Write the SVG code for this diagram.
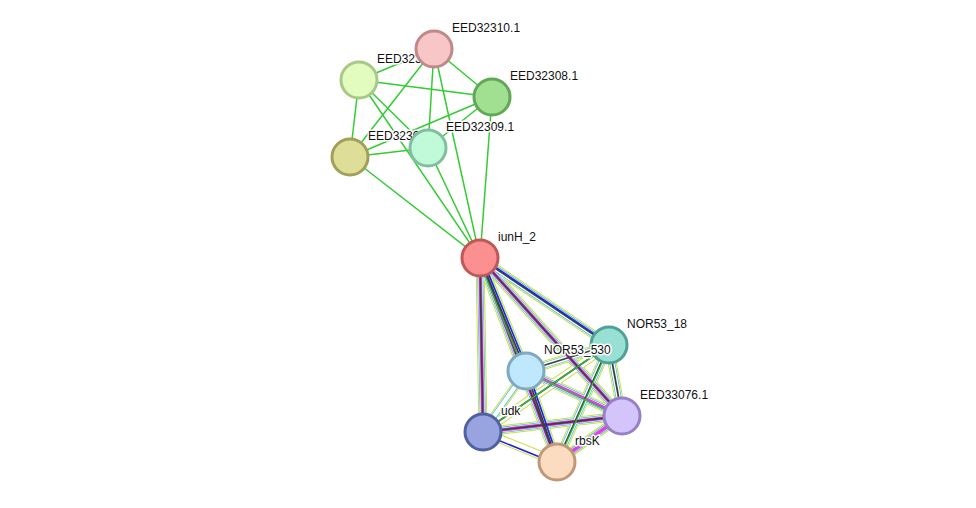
<svg xmlns="http://www.w3.org/2000/svg" width="976" height="508" viewBox="0 0 976 508">
<style>
.g{stroke:#33cc33;stroke-width:1.5}
.a{stroke:#c8e040;stroke-width:9}
.b{stroke:#40b8e0;stroke-width:7}
.m{stroke:#e040e0;stroke-width:5}
.k{stroke:#404040;stroke-width:3}
.n{stroke:#30c030;stroke-width:1.2}
.w{stroke:#fff;stroke-width:1}
text{font-family:"Liberation Sans",Arial,sans-serif;font-size:12px;fill:#111;stroke:#fff;stroke-width:3;paint-order:stroke;stroke-linejoin:round}
circle{stroke-width:3}
</style>
<rect width="976" height="508" fill="#fff"/>
<g id="connectors" fill="none">
<g class="g">
<line x1="434" y1="49" x2="359" y2="80"/><line x1="434" y1="49" x2="492" y2="97"/><line x1="434" y1="49" x2="350" y2="157"/><line x1="434" y1="49" x2="428" y2="148"/><line x1="434" y1="49" x2="480" y2="258"/>
<line x1="359" y1="80" x2="492" y2="97"/><line x1="359" y1="80" x2="350" y2="157"/><line x1="359" y1="80" x2="428" y2="148"/><line x1="359" y1="80" x2="480" y2="258"/>
<line x1="492" y1="97" x2="350" y2="157"/><line x1="492" y1="97" x2="428" y2="148"/><line x1="492" y1="97" x2="480" y2="258"/>
<line x1="350" y1="157" x2="428" y2="148"/><line x1="350" y1="157" x2="480" y2="258"/><line x1="428" y1="148" x2="480" y2="258"/>
</g>
<g id="bundle">
<g class="a"><line x1="480" y1="258" x2="609" y2="345"/><line x1="480" y1="258" x2="526" y2="371"/><line x1="480" y1="258" x2="622" y2="416"/><line x1="480" y1="258" x2="483" y2="432"/><line x1="480" y1="258" x2="557" y2="462"/><line x1="609" y1="345" x2="526" y2="371"/><line x1="609" y1="345" x2="622" y2="416"/><line x1="609" y1="345" x2="483" y2="432"/><line x1="609" y1="345" x2="557" y2="462"/><line x1="526" y1="371" x2="622" y2="416"/><line x1="526" y1="371" x2="483" y2="432"/><line x1="526" y1="371" x2="557" y2="462"/><line x1="622" y1="416" x2="483" y2="432"/><line x1="622" y1="416" x2="557" y2="462"/><line x1="483" y1="432" x2="557" y2="462"/></g>
<g class="w" style="stroke-width:7"><line x1="480" y1="258" x2="609" y2="345"/><line x1="480" y1="258" x2="526" y2="371"/><line x1="480" y1="258" x2="622" y2="416"/><line x1="480" y1="258" x2="483" y2="432"/><line x1="480" y1="258" x2="557" y2="462"/><line x1="609" y1="345" x2="526" y2="371"/><line x1="609" y1="345" x2="622" y2="416"/><line x1="609" y1="345" x2="483" y2="432"/><line x1="609" y1="345" x2="557" y2="462"/><line x1="526" y1="371" x2="622" y2="416"/><line x1="526" y1="371" x2="483" y2="432"/><line x1="526" y1="371" x2="557" y2="462"/><line x1="622" y1="416" x2="483" y2="432"/><line x1="622" y1="416" x2="557" y2="462"/><line x1="483" y1="432" x2="557" y2="462"/></g>
<g class="b" style="stroke-width:6"><line x1="480" y1="258" x2="609" y2="345"/><line x1="480" y1="258" x2="526" y2="371"/><line x1="480" y1="258" x2="622" y2="416"/><line x1="480" y1="258" x2="483" y2="432"/><line x1="480" y1="258" x2="557" y2="462"/><line x1="609" y1="345" x2="526" y2="371"/><line x1="609" y1="345" x2="622" y2="416"/><line x1="609" y1="345" x2="557" y2="462"/><line x1="526" y1="371" x2="622" y2="416"/><line x1="526" y1="371" x2="483" y2="432"/><line x1="526" y1="371" x2="557" y2="462"/><line x1="622" y1="416" x2="483" y2="432"/><line x1="622" y1="416" x2="557" y2="462"/></g>
<g class="w" style="stroke-width:4.5"><line x1="480" y1="258" x2="609" y2="345"/><line x1="480" y1="258" x2="526" y2="371"/><line x1="480" y1="258" x2="622" y2="416"/><line x1="480" y1="258" x2="483" y2="432"/><line x1="480" y1="258" x2="557" y2="462"/><line x1="609" y1="345" x2="526" y2="371"/><line x1="609" y1="345" x2="622" y2="416"/><line x1="609" y1="345" x2="557" y2="462"/><line x1="526" y1="371" x2="622" y2="416"/><line x1="526" y1="371" x2="483" y2="432"/><line x1="526" y1="371" x2="557" y2="462"/><line x1="622" y1="416" x2="483" y2="432"/><line x1="622" y1="416" x2="557" y2="462"/></g>
<g class="m" style="stroke-width:3.5"><line x1="480" y1="258" x2="622" y2="416"/><line x1="480" y1="258" x2="483" y2="432"/><line x1="480" y1="258" x2="557" y2="462"/><line x1="526" y1="371" x2="622" y2="416"/><line x1="622" y1="416" x2="483" y2="432"/><line x1="622" y1="416" x2="557" y2="462"/></g>
<g class="k" style="stroke-width:1.8"><line x1="480" y1="258" x2="609" y2="345"/><line x1="480" y1="258" x2="526" y2="371"/><line x1="480" y1="258" x2="622" y2="416"/><line x1="480" y1="258" x2="483" y2="432"/><line x1="480" y1="258" x2="557" y2="462"/><line x1="609" y1="345" x2="526" y2="371"/><line x1="609" y1="345" x2="622" y2="416"/><line x1="609" y1="345" x2="483" y2="432"/><line x1="609" y1="345" x2="557" y2="462"/><line x1="526" y1="371" x2="557" y2="462"/><line x1="622" y1="416" x2="483" y2="432"/></g>
<g style="stroke:#2020e0;stroke-width:1.5"><line x1="482" y1="258" x2="528" y2="371"/><line x1="482" y1="258" x2="611" y2="345"/><line x1="528" y1="371" x2="559" y2="462"/><line x1="483" y1="434" x2="557" y2="464"/></g>
<g class="n"><line x1="478" y1="258" x2="524" y2="371"/><line x1="609" y1="345" x2="483" y2="432"/><line x1="526" y1="371" x2="622" y2="418"/><line x1="609" y1="347" x2="557" y2="464"/></g>
</g>
</g>
<g id="labels-under">
<text x="377" y="63">EED32311.1</text>
<text x="368" y="140">EED32306.1</text>
</g>
<g id="n-EED32310"><circle cx="434" cy="49" r="18" fill="#f8c6c6" stroke="#c08888"/><text x="452" y="32">EED32310.1</text></g>
<g id="n-EED32311"><circle cx="359" cy="80" r="18" fill="#e2fcc0" stroke="#a8c888"/></g>
<g id="n-EED32308"><circle cx="492" cy="97" r="18" fill="#a0e090" stroke="#60a858"/><text x="510" y="80">EED32308.1</text></g>
<g id="n-EED32306"><circle cx="350" cy="157" r="18" fill="#dede98" stroke="#a0a058"/></g>
<g id="n-EED32309"><circle cx="428" cy="148" r="18" fill="#c0fad8" stroke="#80c0a0"/><text x="446" y="131">EED32309.1</text></g>
<g id="n-iunH_2"><circle cx="480" cy="258" r="18" fill="#fc9090" stroke="#c05858"/><text x="498" y="241">iunH_2</text></g>
<g id="n-NOR53_18"><circle cx="609" cy="345" r="18" fill="#98e0d4" stroke="#50a098"/><text x="627" y="328">NOR53_18</text></g>
<g id="n-NOR53_530"><circle cx="526" cy="371" r="18" fill="#c0e8fc" stroke="#80a8c0"/><text x="544" y="354">NOR53_530</text></g>
<g id="n-EED33076"><circle cx="622" cy="416" r="18" fill="#d4c4fc" stroke="#9880c8"/><text x="640" y="399">EED33076.1</text></g>
<g id="n-udk"><circle cx="483" cy="432" r="18" fill="#98a4e0" stroke="#5060a0"/><text x="501" y="415">udk</text></g>
<g id="n-rbsK"><circle cx="557" cy="462" r="18" fill="#fcdcc0" stroke="#c09878"/><text x="575" y="445">rbsK</text></g>
</svg>
